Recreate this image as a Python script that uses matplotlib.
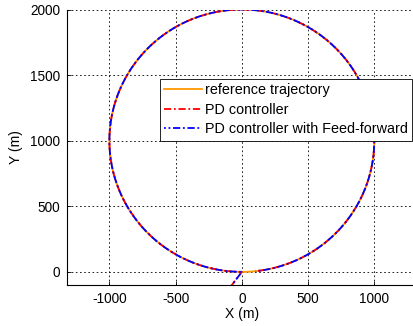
import numpy as np
import matplotlib
matplotlib.use("Agg")
import matplotlib.pyplot as plt

plt.rcParams['font.family'] = ['Liberation Sans', 'DejaVu Sans']
plt.rcParams['axes.unicode_minus'] = False

# Data
center_x, center_y = 0.0, 1000.0
radius = 1000.0
ref_theta_deg = [270.0, -90.0]          # full circle (reference)
track_theta_deg = [270.0, -84.0]        # tracked: clockwise, stops near x=100
pd_start = [-150.0, -200.0]
ff_start = [-150.0, -200.0]
xticks = [-1000, -500, 0, 500, 1000]
yticks = [0, 500, 1000, 1500, 2000]
labels = ['reference trajectory', 'PD controller', 'PD controller with Feed-forward']

def circle(t0, t1, n=600):
    t = np.radians(np.linspace(t0, t1, n))
    return center_x + radius*np.cos(t), center_y + radius*np.sin(t)

fig = plt.figure(figsize=(4.13, 3.26), dpi=100)
ax = fig.add_axes([67/413, 41/326, (418-67)/413, (285-9.5)/326])

rx, ry = circle(*ref_theta_deg)
ax.plot(rx, ry, color='#FF9900', lw=1.3, label=labels[0])

cx, cy = circle(*track_theta_deg)
px = np.concatenate([[pd_start[0]], cx]); py = np.concatenate([[pd_start[1]], cy])
ax.plot(px, py, color='red', lw=1.3, ls=(0, (4, 1.5, 1, 1.5)), label=labels[1])
fx = np.concatenate([[ff_start[0]], cx]); fy = np.concatenate([[ff_start[1]], cy])
ax.plot(fx, fy, color='blue', lw=1.3, ls=(3, (4, 1.5, 1, 1.5)), label=labels[2])

ax.set_xlim(-1320, 1330)
ax.set_ylim(-100, 2000)
ax.set_xticks(xticks)
ax.set_yticks(yticks)
ax.grid(True, color='black', ls=(0, (2, 3)), lw=0.6)
ax.set_axisbelow(True)
for s in ['top', 'right']:
    ax.spines[s].set_visible(False)
for s in ['left', 'bottom']:
    ax.spines[s].set_linewidth(0.8)
ax.tick_params(direction='in', length=3, labelsize=9.8, width=0.6, pad=5)
ax.set_xlabel('X (m)', fontsize=10, labelpad=1)
ax.set_ylabel('Y (m)', fontsize=10, labelpad=5)

leg = ax.legend(loc='upper left', bbox_to_anchor=(160/413, 1-79/326),
                bbox_transform=fig.transFigure, fontsize=10.4, frameon=True,
                fancybox=False, edgecolor='black', framealpha=1,
                borderpad=0.3, labelspacing=0.38, handlelength=2.6,
                handletextpad=0.2, borderaxespad=0)
leg.get_frame().set_linewidth(0.6)

fig.savefig('out.png', dpi=100)
